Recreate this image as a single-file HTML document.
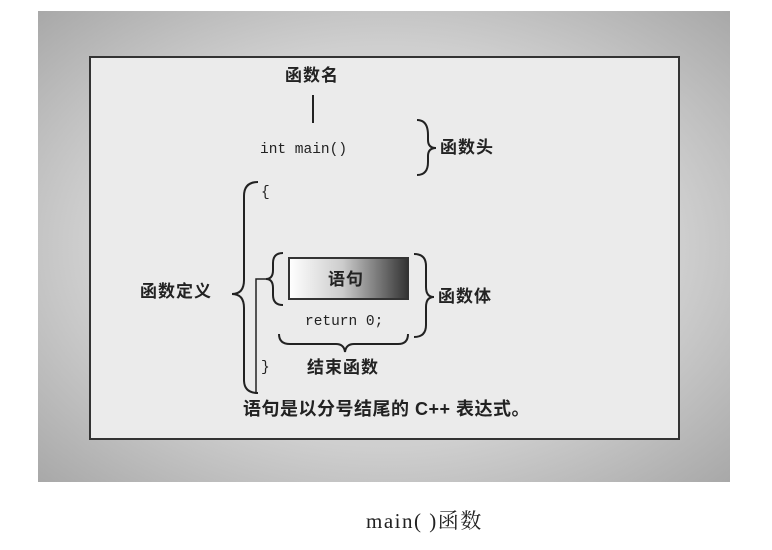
<!DOCTYPE html>
<html><head><meta charset="utf-8"><style>
body{margin:0;width:772px;height:550px;background:#fff;position:relative;overflow:hidden;font-family:"Liberation Sans","Noto Sans CJK SC",sans-serif}
.g{position:absolute;left:38px;top:11px;width:692px;height:471px;background:radial-gradient(ellipse at center,#cfcfcf 60%,#a8a8a8 100%)}
.b{position:absolute;left:89px;top:56px;width:587px;height:380px;border:2px solid #333;background:#ebebeb}
.t{position:absolute;font-weight:bold;color:#222;white-space:nowrap;font-size:17px;line-height:1;letter-spacing:1px}
.m{position:absolute;font-family:"Liberation Mono",monospace;font-size:14.5px;color:#222;white-space:nowrap;line-height:1}
</style></head><body>
<div class="g"></div><div class="b"></div>
<svg style="position:absolute;left:0;top:0" width="772" height="550">
<g fill="none" stroke="#222" stroke-width="2">
<line x1="313" y1="95" x2="313" y2="123"/>
<path d="M417,120 Q428,120 428,135 L428,140 Q428,148 436,148 Q428,148 428,156 L428,162 Q428,175 417,175"/>
<path d="M258,182 Q244,182 244,196 L244,280 Q244,294 232,294 Q244,294 244,308 L244,380 Q244,393 258,393"/>
<path d="M283,253 Q273,253 273,263 L273,270 Q273,279 266,279 Q273,279 273,288 L273,295 Q273,305 283,305"/>
<path d="M268,279 L256,279 L256,393" stroke-width="1.5"/>
<path d="M414,254 Q426,254 426,266 L426,287 Q426,297 434,297 Q426,297 426,307 L426,325 Q426,337 414,337"/>
<path d="M279,334 Q279,344 290,344 L336,344 Q344,344 345,352 Q346,344 354,344 L398,344 Q408,344 408,334"/>
</g>
<defs><linearGradient id="gr" x1="0" x2="1"><stop offset="0" stop-color="#fff"/><stop offset="0.45" stop-color="#ccc"/><stop offset="1" stop-color="#333"/></linearGradient></defs>
<rect x="289" y="258" width="119" height="41" fill="url(#gr)" stroke="#333" stroke-width="2"/>
</svg>
<div class="t" style="left:285px;top:67px">函数名</div>
<div class="m" style="left:260px;top:143px">int main()</div>
<div class="t" style="left:440px;top:139px">函数头</div>
<div class="m" style="left:261px;top:186px">{</div>
<div class="t" style="left:140px;top:283px">函数定义</div>
<div class="t" style="left:328px;top:271px">语句</div>
<div class="t" style="left:438px;top:288px">函数体</div>
<div class="m" style="left:305px;top:315px">return 0;</div>
<div class="t" style="left:307px;top:359px">结束函数</div>
<div class="m" style="left:261px;top:361px">}</div>
<div class="t" style="left:243px;top:400px;font-size:18px;letter-spacing:0.5px">语句是以分号结尾的 C++ 表达式。</div>
<div style="position:absolute;left:366px;top:505px;font-family:'Liberation Serif','Noto Serif CJK SC',serif;font-size:21px;letter-spacing:1.5px;color:#222">main( )函数</div>
</body></html>
